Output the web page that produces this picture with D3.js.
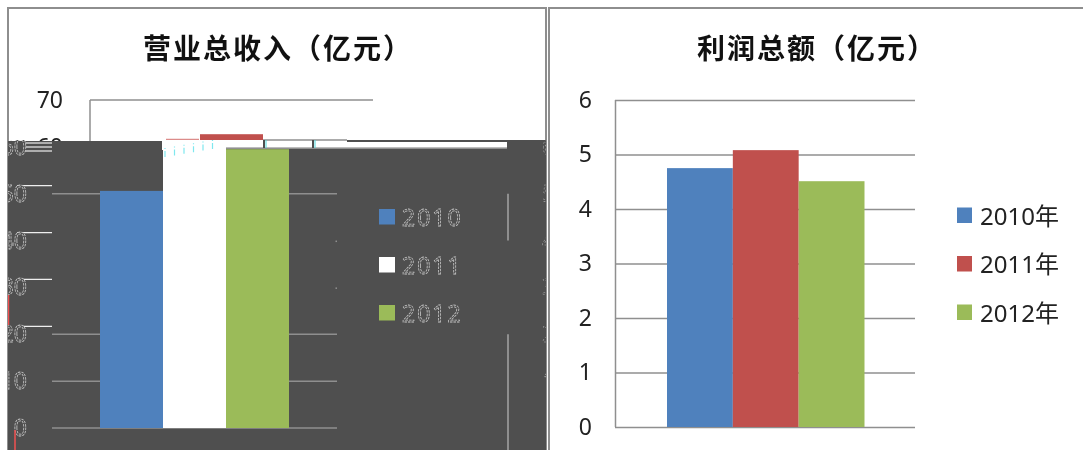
<!DOCTYPE html>
<html>
<head>
<meta charset="utf-8">
<script src="https://cdn.jsdelivr.net/npm/d3@7"></script>
<style>
html, body {margin:0; padding:0; background:#fff;}
svg {filter:blur(0.35px);}
text {font-family:"Noto Sans","Noto Sans CJK SC",sans-serif;}
.title {font-family:"Noto Sans CJK SC",sans-serif; font-weight:700; font-size:28px; letter-spacing:2px; fill:#111;}
</style>
</head>
<body>
<div id="chart"></div>
<script>
// data
var years = ["2010", "2011", "2012"];
var yearLabels = ["2010年", "2011年", "2012年"];
var revenue = [50.6, 62.7, 59.5];
var profit = [4.75, 5.08, 4.51];
var revenueTicks = [0, 10, 20, 30, 40, 50, 60, 70];
var profitTicks = [0, 1, 2, 3, 4, 5, 6];
var colors = ["#4f81bd", "#c0504d", "#9bbb59"];
var revenueTitle = "营业总收入\uFF08亿元\uFF09";
var profitTitle = "利润总额\uFF08亿元\uFF09";

var dark = "#4f4f4f", grid = "#8f8f8f", frame = "#8e8e8e";

var svg = d3.select("#chart").append("svg")
    .attr("width", 1083)
    .attr("height", 450)
    .style("display", "block");

svg.append("rect").attr("width", 1083).attr("height", 450).attr("fill", "#fff");

var defs = svg.append("defs");
defs.append("clipPath").attr("id", "leftPanel").append("rect")
    .attr("x", 8).attr("y", 140).attr("width", 538).attr("height", 310);
defs.append("clipPath").attr("id", "aboveBreak").append("rect")
    .attr("x", 8).attr("y", 100).attr("width", 538).attr("height", 40);

// ---- right chart, drawn clean ----
var yR = d3.scaleLinear().domain([0, 6]).range([427, 100]);
var xR = d3.scaleBand().domain(years).range([667, 864.5]);

svg.append("path")
    .attr("d", "M549,450V8H1083")
    .attr("fill", "none").attr("stroke", frame).attr("stroke-width", 2);

svg.append("text").attr("class", "title")
    .attr("x", 697).attr("y", 59)
    .text(profitTitle);

var axisR = svg.append("g")
    .attr("transform", "translate(615,0)")
    .call(d3.axisLeft(yR).tickValues(profitTicks).tickSize(-300).tickPadding(23).tickFormat(d3.format("d")));
axisR.select(".domain").remove();
axisR.selectAll("line").attr("stroke", grid).attr("stroke-width", 1.5);
axisR.selectAll("text").attr("fill", "#222").style("font-size", "23px");
svg.append("line").attr("x1", 615.5).attr("x2", 615.5).attr("y1", 100).attr("y2", 427).attr("stroke", grid).attr("stroke-width", 1.5);

svg.append("g").selectAll("rect").data(profit).enter().append("rect")
    .attr("x", function(d, i) {return xR(years[i]);})
    .attr("y", function(d) {return yR(d);})
    .attr("width", xR.bandwidth())
    .attr("height", function(d) {return yR(0) - yR(d);})
    .attr("fill", function(d, i) {return colors[i];});

var legR = svg.append("g").selectAll("g").data(yearLabels).enter().append("g")
    .attr("transform", function(d, i) {return "translate(957," + (207.5 + i * 48.5) + ")";});
legR.append("rect").attr("width", 15).attr("height", 15.5)
    .attr("fill", function(d, i) {return colors[i];});
legR.append("text").attr("x", 23).attr("y", 17)
    .attr("fill", "#222").style("font-size", "24px")
    .text(function(d) {return d;});

// ---- left chart, top part still clean ----
var yL = d3.scaleLinear().domain([0, 70]).range([428, 100]);
var xL = d3.scaleBand().domain(years).range([100, 289]);

svg.append("path")
    .attr("d", "M8,450V8H546V450")
    .attr("fill", "none").attr("stroke", frame).attr("stroke-width", 2);

svg.append("text").attr("class", "title")
    .attr("x", 143).attr("y", 59)
    .text(revenueTitle);

var axisL = svg.append("g")
    .attr("transform", "translate(90,0)")
    .call(d3.axisLeft(yL).tickValues(revenueTicks.slice(6)).tickSize(0).tickPadding(27).tickFormat(d3.format("d")));
axisL.select(".domain").remove();
axisL.selectAll("text").attr("fill", "#222").style("font-size", "23px");

svg.append("line").attr("x1", 90).attr("x2", 373).attr("y1", yL(70)).attr("y2", yL(70)).attr("stroke", grid).attr("stroke-width", 1.5);
svg.append("line").attr("x1", 90).attr("x2", 90).attr("y1", yL(70)).attr("y2", 141).attr("stroke", grid).attr("stroke-width", 1.5);
svg.append("line").attr("x1", 263).attr("x2", 347).attr("y1", 140).attr("y2", 140).attr("stroke", grid).attr("stroke-width", 1.5);

// the part of the 2011 bar that survived, shifted right
svg.append("rect")
    .attr("clip-path", "url(#aboveBreak)")
    .attr("x", xL("2011") + 37)
    .attr("y", yL(revenue[1]))
    .attr("width", xL.bandwidth())
    .attr("height", yL(0) - yL(revenue[1]))
    .attr("fill", colors[1]);
svg.append("line").attr("x1", 166).attr("x2", 199).attr("y1", 139.5).attr("y2", 139.5)
    .attr("stroke", "#dc8c8a").attr("stroke-width", 1.5);

// ---- broken dark block over the left chart ----
var block = svg.append("g").attr("clip-path", "url(#leftPanel)");
block.append("rect").attr("x", 8).attr("y", 141).attr("width", 538).attr("height", 309).attr("fill", dark);
block.append("rect").attr("x", 347).attr("y", 140).attr("width", 199).attr("height", 2).attr("fill", dark);

// white band at the top of the block
block.append("rect").attr("x", 226).attr("y", 141).attr("width", 121).attr("height", 7).attr("fill", "#fff");
block.append("rect").attr("x", 347).attr("y", 142).attr("width", 160).attr("height", 6).attr("fill", "#fff");
block.append("line").attr("x1", 226).attr("x2", 507).attr("y1", 148).attr("y2", 148)
    .attr("stroke", "#a6a6a6").attr("stroke-width", 1.5);

// gridlines that remain inside the block
var keptGrid = [50, 20, 10, 0];
block.selectAll(".g").data(keptGrid).enter().append("line")
    .attr("x1", 52).attr("x2", 337)
    .attr("y1", function(d) {return yL(d);})
    .attr("y2", function(d) {return yL(d);})
    .attr("stroke", grid).attr("stroke-width", 1.5);

// the same gridlines displaced up and to the left, in white
var ghostGrid = [50, 40, 30, 20];
block.selectAll(".w").data(ghostGrid).enter().append("line")
    .attr("x1", 17).attr("x2", 52)
    .attr("y1", function(d) {return yL(d) - 8;})
    .attr("y2", function(d) {return yL(d) - 8;})
    .attr("stroke", "#eee").attr("stroke-width", 1.2);
block.selectAll(".w6").data([143, 147, 151]).enter().append("line")
    .attr("x1", 25).attr("x2", 52)
    .attr("y1", function(d) {return d;})
    .attr("y2", function(d) {return d;})
    .attr("stroke", "#eee").attr("stroke-width", 1.2);

// bars, the middle one lost its colour
block.selectAll(".bar").data(revenue).enter().append("rect")
    .attr("x", function(d, i) {return xL(years[i]);})
    .attr("y", function(d) {return yL(d);})
    .attr("width", xL.bandwidth())
    .attr("height", function(d) {return yL(0) - yL(d);})
    .attr("fill", function(d, i) {return i == 1 ? "#fff" : colors[i];});

// white gap above the 2011 bar, small cyan marks from the corrupted image
block.append("rect").attr("x", 162).attr("y", 141).attr("width", 64).attr("height", 9).attr("fill", "#fff");
block.selectAll(".mark").data(d3.range(6)).enter().append("line")
    .attr("x1", function(d) {return 165 + d * 9.5;})
    .attr("x2", function(d) {return 165 + d * 9.5;})
    .attr("y1", function(d) {return 157 - d * 1.6;})
    .attr("y2", function(d) {return 148 - d * 1.6;})
    .attr("stroke", "#7fe8ee").attr("stroke-width", 1.2).attr("stroke-dasharray", "6 2");

// tick labels left over, cut by the panel edge, and again at the right edge
var ghostTicks = revenueTicks.slice(0, 7);
block.selectAll(".lab").data(ghostTicks).enter().append("text")
    .attr("x", 27)
    .attr("y", function(d) {return yL(d);})
    .attr("dy", "0.35em")
    .attr("text-anchor", "end")
    .attr("fill", dark).attr("stroke", "#c4c4c4").attr("stroke-width", 0.8).attr("stroke-dasharray", "2.5 1")
    .style("font-size", "23px")
    .text(function(d) {return d;});
block.selectAll(".labr").data(ghostTicks.slice(1)).enter().append("text")
    .attr("x", 542)
    .attr("y", function(d) {return yL(d);})
    .attr("dy", "0.35em")
    .attr("fill", dark).attr("stroke", "#aaa").attr("stroke-width", 0.6).attr("stroke-dasharray", "2 2")
    .style("font-size", "23px")
    .text(function(d) {return d;});

// stray vertical pieces
block.append("line").attr("x1", 508).attr("x2", 508).attr("y1", yL(50)).attr("y2", yL(40)).attr("stroke", grid).attr("stroke-width", 2);
block.append("line").attr("x1", 508).attr("x2", 508).attr("y1", yL(20)).attr("y2", 450).attr("stroke", grid).attr("stroke-width", 2);
block.append("line").attr("x1", 8.5).attr("x2", 8.5).attr("y1", 295).attr("y2", 325).attr("stroke", "#f05050").attr("stroke-width", 1.5);
block.append("line").attr("x1", 15).attr("x2", 15).attr("y1", 430).attr("y2", 450).attr("stroke", "#f05050").attr("stroke-width", 1.5);
block.selectAll(".dot").data([40, 30]).enter().append("rect")
    .attr("x", 335.5).attr("y", function(d) {return yL(d);})
    .attr("width", 1.5).attr("height", 1.5).attr("fill", grid);

// ticks crossing the white band
[264, 313].forEach(function(x) {
    svg.append("line").attr("x1", x).attr("x2", x).attr("y1", 140).attr("y2", 148).attr("stroke", dark).attr("stroke-width", 2);
    svg.append("line").attr("x1", x + 2).attr("x2", x + 2).attr("y1", 140).attr("y2", 148).attr("stroke", "#4fd8dc").attr("stroke-width", 1);
});

// legend of the left chart, text only as outlines
var legL = block.selectAll(".leg").data(years).enter().append("g")
    .attr("transform", function(d, i) {return "translate(379," + (209 + i * 48) + ")";});
legL.append("rect").attr("width", 16).attr("height", 15.5)
    .attr("fill", function(d, i) {return i == 1 ? "#fff" : colors[i];});
legL.append("text").attr("x", 23).attr("y", 17)
    .attr("fill", dark).attr("stroke", "#c4c4c4").attr("stroke-width", 0.8).attr("stroke-dasharray", "2.5 1")
    .style("font-size", "23px").style("letter-spacing", "2px")
    .text(function(d) {return d;});
</script>
</body>
</html>
